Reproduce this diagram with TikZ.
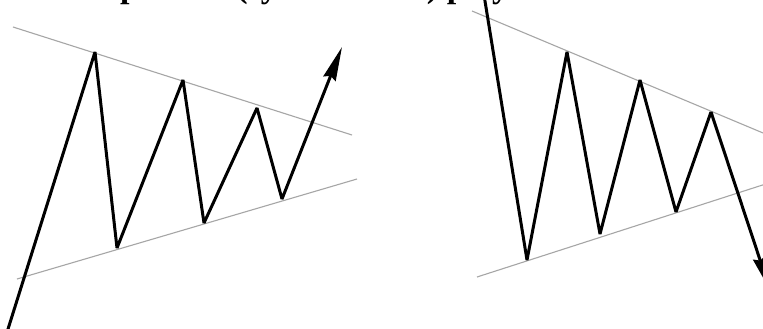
\documentclass[tikz,border=0pt]{standalone}
\usepackage{fontspec}
\setmainfont{Liberation Serif}
\usetikzlibrary{arrows.meta}
\tikzset{
  trend/.style={draw=black!35, line width=1.1pt},
  price/.style={draw=black, line width=3pt, line join=bevel},
  pricearrow/.style={price, -{Stealth[length=34pt, width=13pt, inset=3pt]}},
  titletext/.style={anchor=base west, inner sep=0pt, font=\fontsize{34}{40}\selectfont\bfseries}
}
\begin{document}
\begin{tikzpicture}[x=1pt, y=-1pt]
  \useasboundingbox (0,0) rectangle (763,329);
  \clip (0,0) rectangle (763,329);
  \fill[white] (0,0) rectangle (763,329);

  % title (only its descenders fall inside the picture)
  \node[titletext] (title) at (0,-2) {Neutral pattern (symmetrical) play};

  % left pattern: trend lines
  \coordinate (lu1) at (13,27);   \coordinate (lu2) at (352,135);
  \coordinate (ll1) at (17,279);  \coordinate (ll2) at (357,179);
  \draw[trend] (lu1) -- (lu2);
  \draw[trend] (ll1) -- (ll2);

  % left pattern: price path
  \coordinate (a0) at (3,345);
  \coordinate (a1) at (95,52);
  \coordinate (a2) at (117,248);
  \coordinate (a3) at (183,80);
  \coordinate (a4) at (204,223);
  \coordinate (a5) at (257,108);
  \coordinate (a6) at (282,199);
  \coordinate (a7) at (342,47);
  \draw[pricearrow] (a0) -- (a1) -- (a2) -- (a3) -- (a4) -- (a5) -- (a6) -- (a7);

  % right pattern: trend lines
  \coordinate (ru1) at (472,11);  \coordinate (ru2) at (775,138);
  \coordinate (rl1) at (477,277); \coordinate (rl2) at (775,181);
  \draw[trend] (ru1) -- (ru2);
  \draw[trend] (rl1) -- (rl2);

  % right pattern: price path
  \coordinate (b0) at (484,-5);
  \coordinate (b1) at (527,260);
  \coordinate (b2) at (567,52);
  \coordinate (b3) at (600,234);
  \coordinate (b4) at (640,80);
  \coordinate (b5) at (676,212);
  \coordinate (b6) at (711,112);
  \coordinate (b7) at (770,290);
  \draw[pricearrow] (b0) -- (b1) -- (b2) -- (b3) -- (b4) -- (b5) -- (b6) -- (b7);
\end{tikzpicture}
\end{document}
